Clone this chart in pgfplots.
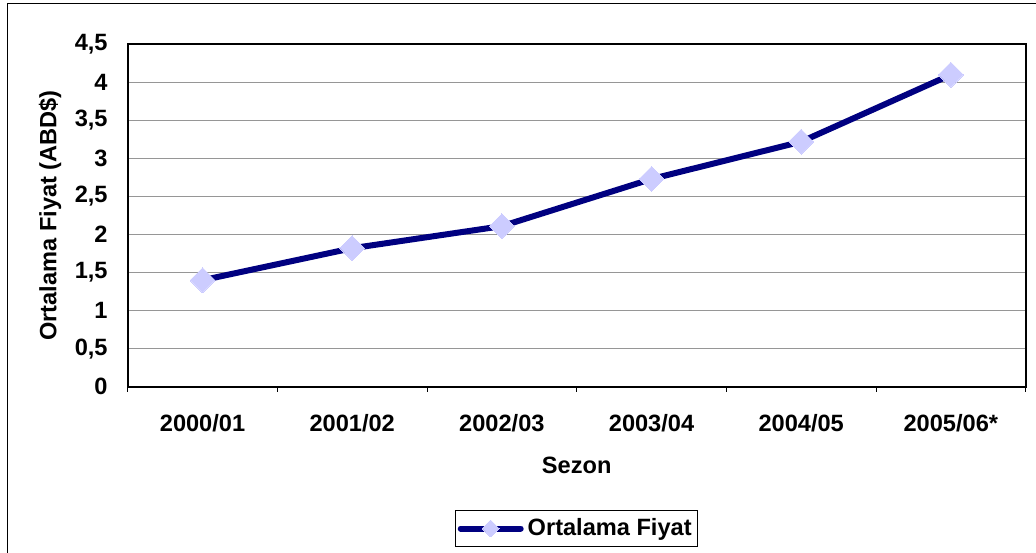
\documentclass[border=0pt]{standalone}
\usepackage{fontspec}
\setmainfont{Liberation Sans}
\usepackage{pgfplots}
\pgfplotsset{compat=1.18}
\definecolor{navyline}{RGB}{0,0,128}
\definecolor{lavmark}{RGB}{204,204,255}
\definecolor{gridgray}{RGB}{150,150,150}
\newcommand{\lblfont}{\fontsize{11.8}{13}\selectfont\bfseries}

\begin{document}
\begin{tikzpicture}[x=1pt,y=1pt]
\useasboundingbox (0,0) rectangle (518,276);
% outer chart frame (right and bottom edges lie outside the crop)
\draw[line width=0.5pt] (3.6,-2) -- (3.6,274.4) -- (522,274.4);
\begin{axis}[
    at={(63.85pt,82.65pt)}, anchor=south west,
    scale only axis, width=449pt, height=171.2pt,
    xmin=-0.5, xmax=5.5, ymin=0, ymax=4.5,
    xtick={0,1,2,3,4,5},
    xticklabels={2000/01,2001/02,2002/03,2003/04,2004/05,2005/06*},
    minor xtick={-0.5,0.5,1.5,2.5,3.5,4.5,5.5},
    ytick={0,0.5,1,1.5,2,2.5,3,3.5,4,4.5},
    yticklabels={0,{0,5},1,{1,5},2,{2,5},3,{3,5},4,{4,5}},
    major tick length=0pt, minor tick length=2.5pt,
    tick align=outside, tick pos=bottom,
    minor tick style={black, line width=0.5pt},
    axis line style={black, line width=0.9pt},
    ymajorgrids, major grid style={gridgray, line width=0.8pt},
    tick label style={font=\lblfont},
    xticklabel style={anchor=center, inner sep=0pt, yshift=-18.15pt},
    yticklabel style={anchor=east, inner sep=0pt, xshift=-9.85pt},
    xlabel={Sezon},
    xlabel style={at={(axis description cs:0.5,0)}, anchor=center, yshift=-39.15pt, font=\lblfont},
    ylabel={Ortalama Fiyat (ABD\$)},
    ylabel style={at={(axis description cs:-0.0865,0.5)}, anchor=center, font=\lblfont},
    legend style={at={(axis description cs:0.5,0)}, anchor=center, yshift=-70.9pt,
        draw=black, line width=0.5pt, font=\lblfont, inner xsep=1pt, inner ysep=2pt},
    legend image code/.code={
        \draw[#1, line cap=round] (0pt,0pt) -- (30pt,0pt);
        \draw[#1, mark size=3pt] plot coordinates {(15pt,0pt)};
    },
]
\addplot[navyline, line width=3pt, line join=round, mark=square*, mark size=4.4pt,
    mark options={rotate=45, fill=lavmark, draw=lavmark, line width=0pt}]
    coordinates {(0,1.40) (1,1.82) (2,2.11) (3,2.73) (4,3.22) (5,4.10)};
\addlegendentry{Ortalama Fiyat}
\end{axis}
\end{tikzpicture}
\end{document}
